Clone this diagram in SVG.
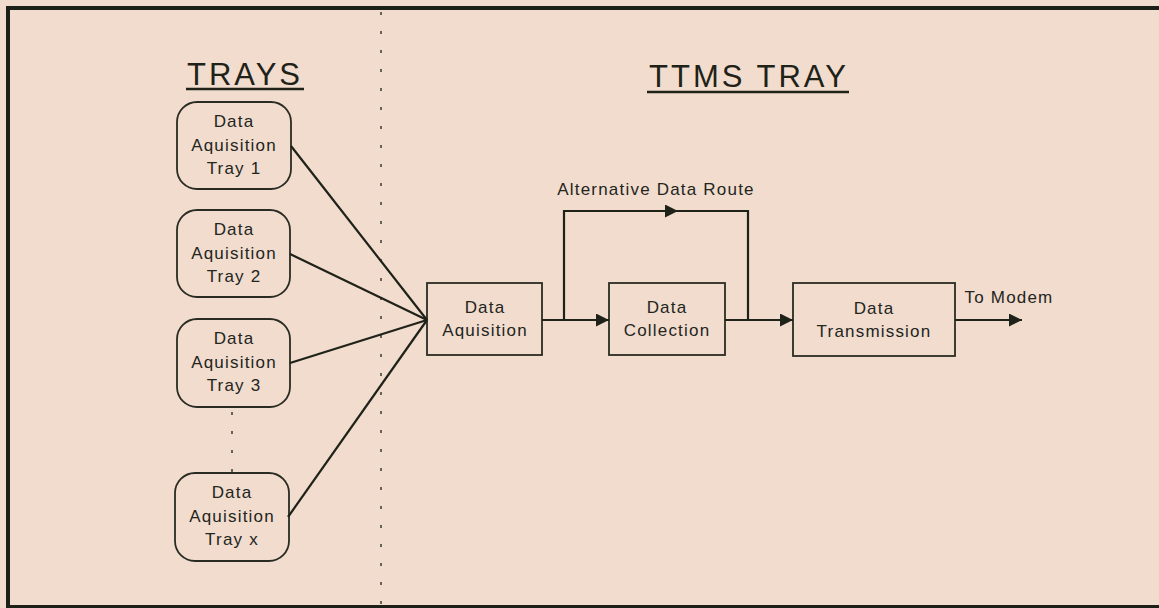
<svg xmlns="http://www.w3.org/2000/svg" width="1159" height="608" viewBox="0 0 1159 608">
  <style>
    .bg { fill: #f1dccd; }
    .frame { fill: none; stroke: #1c2016; stroke-width: 4; }
    .title { font-family: "Liberation Sans", Arial, sans-serif; font-size: 31px; letter-spacing: 3px; fill: #1e2218; text-anchor: middle; }
    .uline { stroke: #1e2218; stroke-width: 2.5; }
    .lbl { font-family: "Liberation Sans", Arial, sans-serif; font-size: 17px; letter-spacing: 1.2px; fill: #23251e; text-anchor: middle; }
    .tray { fill: none; stroke: #2a2c24; stroke-width: 1.8; }
    .box { fill: none; stroke: #2a2c24; stroke-width: 1.8; }
    .wire { fill: none; stroke: #1e2218; stroke-width: 2.2; }
    .dots { fill: none; stroke: #3a3a30; stroke-width: 1.5; stroke-dasharray: 3 16; }
  </style>
  <defs>
    <marker id="arrow" viewBox="0 0 13 13" refX="13" refY="6.5" markerWidth="13" markerHeight="13" markerUnits="userSpaceOnUse" orient="auto">
      <path d="M0,0 L13,6.5 L0,13 Z" fill="#1e2218"/>
    </marker>
  </defs>

  <rect class="bg" x="0" y="0" width="1159" height="608"/>
  <rect class="frame" x="8" y="8" width="1160" height="599"/>

  <!-- section divider -->
  <line class="dots" x1="381" y1="12" x2="381" y2="605"/>

  <!-- section headings -->
  <g id="heading-trays">
    <text class="title" x="245" y="85">TRAYS</text>
    <line class="uline" x1="186" y1="89" x2="304" y2="89"/>
  </g>
  <g id="heading-ttms">
    <text class="title" x="749" y="87">TTMS TRAY</text>
    <line class="uline" x1="647" y1="92" x2="849" y2="92"/>
  </g>

  <g id="tray1">
    <rect class="tray" x="177" y="102" width="114" height="87" rx="20"/>
    <text class="lbl" x="234" y="127">Data</text>
    <text class="lbl" x="234" y="151">Aquisition</text>
    <text class="lbl" x="234" y="174">Tray 1</text>
  </g>
  <g id="tray2">
    <rect class="tray" x="177" y="210" width="113" height="87" rx="20"/>
    <text class="lbl" x="234" y="235">Data</text>
    <text class="lbl" x="234" y="259">Aquisition</text>
    <text class="lbl" x="234" y="282">Tray 2</text>
  </g>
  <g id="tray3">
    <rect class="tray" x="177" y="319" width="113" height="88" rx="20"/>
    <text class="lbl" x="234" y="344">Data</text>
    <text class="lbl" x="234" y="368">Aquisition</text>
    <text class="lbl" x="234" y="391">Tray 3</text>
  </g>
  <g id="trayx">
    <rect class="tray" x="175" y="473" width="114" height="88" rx="20"/>
    <text class="lbl" x="232" y="498">Data</text>
    <text class="lbl" x="232" y="522">Aquisition</text>
    <text class="lbl" x="232" y="545">Tray x</text>
  </g>
  <line class="dots" x1="232" y1="412" x2="232" y2="473"/>

  <g id="acquisition">
    <rect class="box" x="427" y="283" width="115" height="72"/>
    <text class="lbl" x="485" y="313">Data</text>
    <text class="lbl" x="485" y="336">Aquisition</text>
  </g>
  <g id="collection">
    <rect class="box" x="609" y="283" width="116" height="72"/>
    <text class="lbl" x="667" y="313">Data</text>
    <text class="lbl" x="667" y="336">Collection</text>
  </g>
  <g id="transmission">
    <rect class="box" x="793" y="283" width="162" height="73"/>
    <text class="lbl" x="874" y="314">Data</text>
    <text class="lbl" x="874" y="337">Transmission</text>
  </g>

  <g id="connectors">
    <line class="wire" x1="291" y1="146" x2="427" y2="320"/>
    <line class="wire" x1="290" y1="254" x2="427" y2="320"/>
    <line class="wire" x1="290" y1="363" x2="427" y2="320"/>
    <line class="wire" x1="288" y1="517" x2="427" y2="320"/>
    <line class="wire" x1="542" y1="320" x2="609" y2="320" marker-end="url(#arrow)"/>
    <polyline class="wire" points="564,320 564,211 678,211" marker-end="url(#arrow)"/>
    <polyline class="wire" points="676,211 748,211 748,320"/>
    <line class="wire" x1="725" y1="320" x2="793" y2="320" marker-end="url(#arrow)"/>
    <line class="wire" x1="955" y1="320" x2="1022" y2="320" marker-end="url(#arrow)"/>
    <text class="lbl" x="656" y="195">Alternative Data Route</text>
    <text class="lbl" x="1009" y="303">To Modem</text>
  </g>
</svg>
